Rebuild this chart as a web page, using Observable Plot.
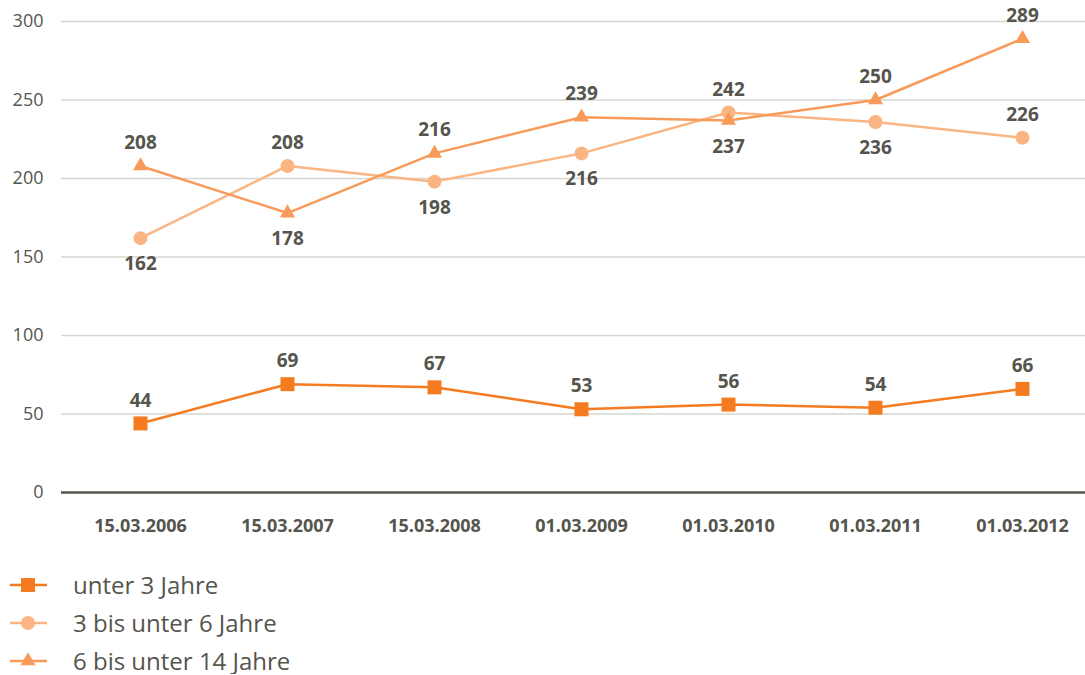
<!DOCTYPE html>
<html>
<head>
<meta charset="utf-8">
<script src="https://cdn.jsdelivr.net/npm/d3@7"></script>
<script src="https://cdn.jsdelivr.net/npm/@observablehq/plot@0.6"></script>
<style>
  body { margin: 0; background: #fff; font-family: "Open Sans", sans-serif; overflow: hidden; }
  #legend { margin-top: 22px; }
  .row { height: 26px; margin-bottom: 12px; display: flex; align-items: center; color: #55554d; font-size: 24px; line-height: 26px; }
  .row:last-child { margin-bottom: 0; }
  .row svg { margin-left: 8px; margin-right: 23px; }
</style>
</head>
<body>
<div id="chart"></div>
<div id="legend"></div>
<script>
const dates = ["15.03.2006", "15.03.2007", "15.03.2008", "01.03.2009", "01.03.2010", "01.03.2011", "01.03.2012"];
const seriesNames = ["unter 3 Jahre", "3 bis unter 6 Jahre", "6 bis unter 14 Jahre"];
const unter3 = [44, 69, 67, 53, 56, 54, 66];
const bis6 = [162, 208, 198, 216, 242, 236, 226];
const bis14 = [208, 178, 216, 239, 237, 250, 289];
const yTicks = [0, 50, 100, 150, 200, 250, 300];

const colors = ["#f47b20", "#fbb582", "#f89a5a"];
const symbols = ["square", "circle", "triangle"];
const radii = [7.9, 7, 5.6];
const textColor = "#55554d";

const allSeries = [unter3, bis6, bis14];
const data = [];
allSeries.forEach((vals, si) => {
  vals.forEach((v, i) => {
    const others = allSeries.filter((_, k) => k !== si).map(s => s[i]);
    const below = others.some(o => o > v && o - v <= 60);
    data.push({series: seriesNames[si], date: dates[i], value: v, below});
  });
});

const marks = [
  Plot.gridY(yTicks.filter(t => t > 0), {stroke: "#d6d6d2", strokeOpacity: 1, strokeWidth: 1.5}),
  Plot.ruleY([0], {stroke: textColor, strokeWidth: 2.5}),
  Plot.axisY({ticks: yTicks, tickSize: 0, tickPadding: 18, fontSize: 18, fill: textColor, label: null}),
  Plot.axisX({tickSize: 0, tickPadding: 27, fontSize: 18, fontWeight: "bold", fill: textColor, label: null})
];
seriesNames.forEach((name, si) => {
  const d = data.filter(r => r.series === name);
  marks.push(Plot.line(d, {x: "date", y: "value", stroke: colors[si], strokeWidth: 2.5}));
  marks.push(Plot.dot(d, {x: "date", y: "value", fill: colors[si], symbol: symbols[si], r: radii[si]}));
  marks.push(Plot.text(d.filter(r => !r.below), {x: "date", y: "value", text: "value", dy: -23, fontSize: 19, fontWeight: "bold", fill: textColor}));
  marks.push(Plot.text(d.filter(r => r.below), {x: "date", y: "value", text: "value", dy: 26, fontSize: 19, fontWeight: "bold", fill: textColor}));
});

const chart = Plot.plot({
  width: 1085,
  height: 550,
  marginTop: 21,
  marginBottom: 58,
  marginLeft: 61,
  marginRight: 0,
  style: {fontFamily: "Open Sans, sans-serif", background: "#fff"},
  x: {type: "point", domain: dates, range: [139, 1022], padding: 0},
  y: {domain: [0, 300]},
  marks
});
document.getElementById("chart").appendChild(chart);

const legend = document.getElementById("legend");
seriesNames.forEach((name, si) => {
  const row = document.createElement("div");
  row.className = "row";
  const svg = d3.create("svg").attr("width", 42).attr("height", 20);
  svg.append("line").attr("x1", 2).attr("x2", 39).attr("y1", 10).attr("y2", 10)
    .attr("stroke", colors[si]).attr("stroke-width", 2.5);
  const symType = [d3.symbolSquare, d3.symbolCircle, d3.symbolTriangle][si];
  svg.append("path").attr("transform", "translate(20,10)")
    .attr("d", d3.symbol(symType, Math.PI * radii[si] * radii[si])())
    .attr("fill", colors[si]);
  row.appendChild(svg.node());
  const span = document.createElement("span");
  span.textContent = name;
  row.appendChild(span);
  legend.appendChild(row);
});
</script>
</body>
</html>
